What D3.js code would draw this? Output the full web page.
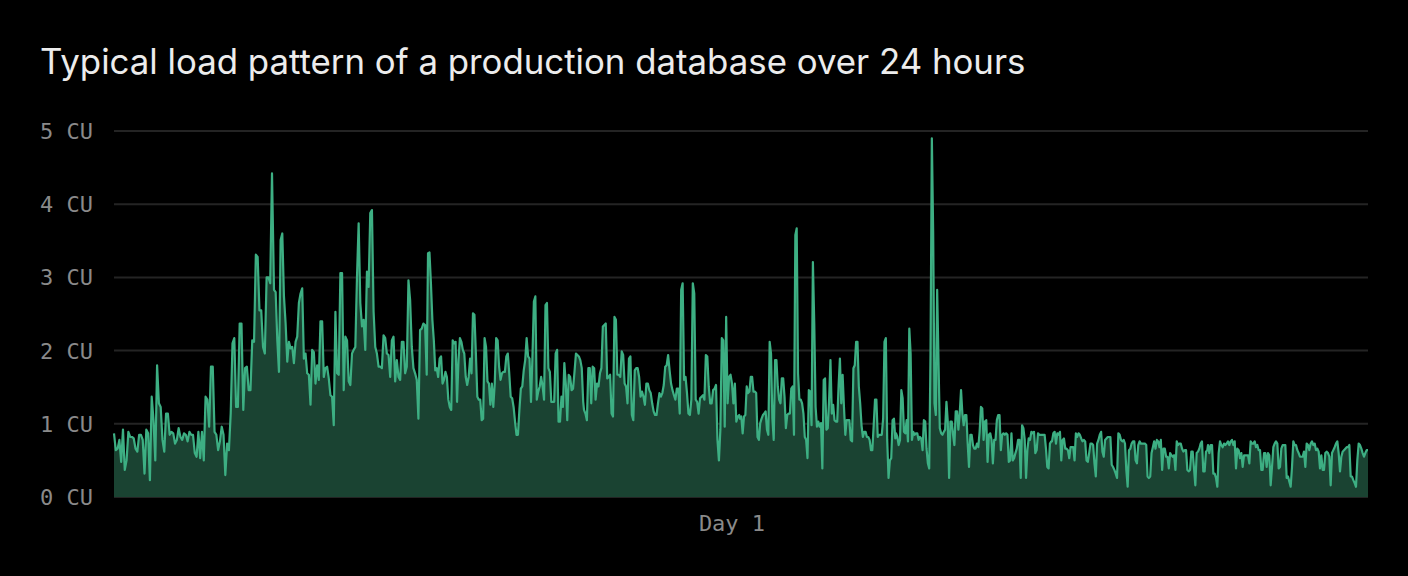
<!DOCTYPE html>
<html>
<head>
<meta charset="utf-8">
<script src="https://cdn.jsdelivr.net/npm/d3@7"></script>
<style>
  html, body { margin: 0; padding: 0; background: #000; }
  svg { display: block; }
</style>
</head>
<body>
<div id="chart"></div>
<script>
// load in CU in eight ~3 hour stretches
// each stretch: [start hour, end hour], values spread evenly inside it
var hours00 = [0, 3.024];
var load00 = [0.87,0.64,0.66,0.78,0.48,0.92,0.37,0.5,0.89,0.82,0.82,0.8,0.66,0.62,0.85,0.85,0.78,0.32,0.92,0.87,0.23,1.37,1.05,0.5,1.8,1.28,1.23,0.78,0.62,1.14,1.14,0.85,0.89,0.87,0.73,0.78,0.94,0.82,0.78,0.87,0.85,0.76,0.89,0.85,0.85,0.6,0.55,0.89,0.53,0.89,0.5,1.37,1.33,0.96,1.78,1.78,0.89,0.85,0.64,0.76,0.96,0.85,0.3,0.73,0.64,1.14,2.1,2.17,1.23,1.23,2.37,2.37,1.19,1.76,1.78,1.46,1.46,2.14,2.12,3.31,3.28,2.55,2.55,2.05,1.96,3.0,3.0,2.92,4.42];

var hours03 = [3.062, 5.985];
var load03 = [2.83,2.8,2.14,1.71,3.51,3.6,2.74,2.37,1.85,2.12,2.03,2.05,1.83,2.12,2.19,2.65,2.78,2.85,1.89,1.96,1.69,1.67,1.26,2.01,1.98,1.55,1.8,1.6,2.4,2.4,1.64,1.76,1.78,1.62,1.39,1.37,0.98,2.53,1.69,1.67,3.06,3.06,1.46,2.19,2.14,1.58,1.53,1.96,2.01,2.05,3.01,3.74,2.65,2.33,2.42,2.01,3.08,2.87,3.88,3.92,2.53,2.05,1.96,1.78,1.78,1.76,2.21,2.17,1.96,1.94,1.64,2.14,2.19,1.58,1.87,1.64,1.6,2.12,2.12,1.69,1.78,2.96,2.69,2.05,1.76,1.69,1.6,1.07,2.28,2.3,2.37,2.35,1.67];

var hours06 = [6.01, 8.98];
var load06 = [3.33,3.34,2.92,2.42,2.14,1.73,1.76,1.64,1.89,1.92,1.55,1.6,1.71,1.64,1.33,1.23,1.19,2.14,2.1,2.12,1.3,1.87,2.17,2.12,2.01,1.96,1.64,1.53,1.64,1.89,1.69,2.51,2.49,1.96,1.37,1.33,1.33,1.05,1.07,2.17,2.05,1.58,1.55,1.26,1.55,1.23,1.55,2.17,2.14,1.78,1.6,1.69,1.71,1.71,1.92,1.96,1.69,1.37,1.35,1.23,1.03,0.85,0.85,1.19,1.48,1.51,1.73,1.87,2.17,1.92,1.89,1.3,1.92,2.67,2.74,1.33,1.44,1.51,1.64,1.51,1.33,2.62,2.65,1.76,1.71,1.3,1.3,1.3,1.96,2.01,1.03,1.03,1.37,1.23,1.83,1.55,1.05,1.67,1.64,1.46,1.48,1.71,1.96,1.94,1.92,1.87,1.76,1.3];

var hours09 = [8.995, 11.966];
var load09 = [1.19,1.14,1.05,1.76,1.76,1.28,1.78,1.76,1.33,1.55,1.51,1.69,1.76,2.33,2.35,2.37,1.62,1.64,1.67,1.14,1.1,2.46,2.42,1.67,1.67,1.64,1.99,1.94,1.55,1.51,1.28,1.89,1.92,1.12,1.05,1.73,1.76,1.76,1.64,1.37,1.44,1.37,1.26,1.55,1.55,1.46,1.42,1.28,1.17,1.12,1.12,1.28,1.42,1.37,1.42,1.53,1.78,1.8,1.94,1.73,1.55,1.46,1.39,1.33,1.48,1.48,1.14,2.83,2.92,1.6,1.64,1.42,1.14,1.12,1.33,2.92,2.78,1.33,1.3,1.14,1.35,1.37,1.39,1.33,1.94,1.92,1.51,1.28,1.28,1.46,1.48,1.53,0.78,0.5,0.92,2.17,2.14,0.96,2.46,1.28,1.64,1.67,1.55,1.28,1.55,1.03,1.1,1.12];

var hours12 = [11.98, 14.953];
var load12 = [1.07,1.1,0.87,1.1,1.12,1.51,1.42,1.44,1.64,1.64,1.44,1.44,1.42,0.82,0.78,1.01,1.07,1.12,1.14,1.17,0.92,0.85,2.12,1.96,1.07,0.78,1.87,1.87,1.51,1.33,1.28,1.62,1.62,1.37,0.94,1.12,1.14,1.14,1.48,1.51,0.85,3.58,3.67,1.69,1.33,1.33,1.28,1.14,0.82,0.78,0.53,1.46,1.44,0.98,3.21,2.37,1.23,0.96,1.03,0.96,1.01,0.39,1.6,1.62,0.92,0.94,1.33,1.87,1.14,1.26,1.05,1.03,1.03,1.51,1.89,1.28,1.67,1.23,0.85,1.05,1.05,1.05,0.78,0.76,1.76,1.8,2.12,2.12,1.51,1.28,0.98,0.82,0.89,0.89,0.82,0.82,0.78,0.64,0.64,0.98,1.33,1.33,0.82,0.85,0.85,0.85,1.07,2.12,2.17,0.78,0.26,0.5,0.53,1.05,1.07,0.8];

var hours15 = [14.967, 17.938];
var load15 = [0.87,0.82,0.71,0.78,1.46,1.35,0.89,0.87,1.05,0.76,2.3,1.96,0.78,0.89,0.85,0.87,0.87,0.78,0.82,0.8,0.64,1.05,1.03,0.66,0.46,0.39,1.96,4.9,3.6,1.28,1.12,2.83,1.87,0.94,0.87,0.85,0.89,0.92,1.3,1.03,0.26,1.03,1.03,0.85,0.71,1.17,1.17,0.92,1.14,1.46,1.14,0.98,1.12,1.12,0.73,0.41,0.85,0.85,0.71,0.66,0.66,0.73,0.68,0.89,1.23,1.21,0.78,1.03,1.05,0.48,0.85,0.87,0.78,0.46,0.78,0.78,1.05,1.12,1.12,0.64,0.85,0.87,0.85,0.87,0.85,0.48,0.5,0.87,0.5,0.53,0.6,0.66,0.78,0.78,0.26,0.98,0.94,0.78,0.26,0.64,0.8,0.78,0.89,0.87,0.89,0.6,0.64,0.87,0.85,0.85,0.85,0.85,0.85,0.66,0.41,0.39,0.73,0.76];

var hours18 = [17.952, 20.924];
var load18 = [0.76,0.87,0.89,0.73,0.87,0.85,0.89,0.5,0.78,0.8,0.66,0.66,0.64,0.53,0.68,0.68,0.68,0.5,0.87,0.82,0.87,0.85,0.8,0.76,0.78,0.76,0.5,0.48,0.6,0.73,0.73,0.71,0.46,0.28,0.73,0.78,0.85,0.89,0.62,0.55,0.78,0.8,0.82,0.82,0.82,0.44,0.41,0.37,0.32,0.26,0.87,0.85,0.78,0.76,0.78,0.73,0.37,0.14,0.64,0.66,0.73,0.76,0.76,0.5,0.46,0.71,0.76,0.73,0.73,0.73,0.73,0.71,0.28,0.26,0.28,0.6,0.68,0.76,0.66,0.78,0.76,0.68,0.78,0.37,0.66,0.66,0.55,0.55,0.39,0.6,0.57,0.55,0.57,0.37,0.76,0.71,0.73,0.73,0.66,0.62,0.64,0.64,0.37,0.35,0.37,0.62,0.62,0.39,0.16,0.6,0.62,0.66,0.73,0.76,0.35,0.35,0.62,0.64];

var hours21 = [20.938, 24];
var load21 = [0.71,0.6,0.71,0.71,0.32,0.32,0.26,0.14,0.6,0.76,0.71,0.68,0.73,0.71,0.73,0.76,0.71,0.76,0.78,0.71,0.76,0.39,0.66,0.64,0.53,0.6,0.41,0.57,0.57,0.57,0.57,0.46,0.76,0.73,0.73,0.76,0.68,0.71,0.64,0.64,0.37,0.37,0.6,0.6,0.41,0.6,0.57,0.16,0.41,0.68,0.73,0.76,0.73,0.39,0.41,0.66,0.71,0.71,0.71,0.26,0.28,0.21,0.14,0.41,0.76,0.71,0.71,0.64,0.6,0.55,0.55,0.55,0.62,0.41,0.73,0.71,0.64,0.73,0.76,0.71,0.73,0.64,0.66,0.62,0.39,0.57,0.37,0.37,0.6,0.62,0.6,0.55,0.16,0.6,0.64,0.68,0.73,0.76,0.6,0.35,0.55,0.62,0.64,0.66,0.68,0.68,0.71,0.28,0.28,0.23,0.19,0.14,0.5,0.73,0.71,0.66,0.6,0.55,0.6,0.64,0.64];

var yTicks = [0, 1, 2, 3, 4, 5];
var xLabel = "Day 1";
var title = "Typical load pattern of a production database over 24 hours";

var stretches = [
  [hours00, load00], [hours03, load03], [hours06, load06], [hours09, load09],
  [hours12, load12], [hours15, load15], [hours18, load18], [hours21, load21]
];

var data = [];
stretches.forEach(function(s) {
  var t = d3.scaleLinear().domain([0, s[1].length - 1]).range(s[0]);
  s[1].forEach(function(v, i) { data.push({ t: t(i), v: v }); });
});

var width = 1408, height = 576;
var margin = { left: 114, right: 40, top: 131, bottom: 79 };

var svg = d3.select("#chart").append("svg")
  .attr("width", width)
  .attr("height", height);

var x = d3.scaleLinear().domain([0, 24]).range([margin.left, width - margin.right]);
var y = d3.scaleLinear().domain([0, 5]).range([height - margin.bottom, margin.top]);

svg.append("text")
  .attr("x", 40)
  .attr("y", 74)
  .attr("fill", "#ececec")
  .style("font-family", "Inter, 'Noto Sans', sans-serif")
  .style("font-size", "34.8px")
  .text(title);

// grid
svg.append("g")
  .selectAll("line")
  .data(yTicks)
  .enter()
  .append("line")
  .attr("x1", x(0))
  .attr("x2", x(24))
  .attr("y1", function(d) { return y(d); })
  .attr("y2", function(d) { return y(d); })
  .attr("stroke", "#242424")
  .attr("stroke-width", 2);

svg.append("g")
  .selectAll("text")
  .data(yTicks)
  .enter()
  .append("text")
  .attr("x", 40)
  .attr("y", function(d) { return y(d); })
  .attr("dy", "0.36em")
  .attr("fill", "#8a8a8a")
  .style("font-family", "'DejaVu Sans Mono', monospace")
  .style("font-size", "22px")
  .text(function(d) { return d + " CU"; });

var area = d3.area()
  .x(function(d) { return x(d.t); })
  .y0(y(0))
  .y1(function(d) { return y(d.v); });

var line = d3.line()
  .x(function(d) { return x(d.t); })
  .y(function(d) { return y(d.v); });

svg.append("path")
  .datum(data)
  .attr("d", area)
  .attr("fill", "#1a4332");

svg.append("path")
  .datum(data)
  .attr("d", line)
  .attr("fill", "none")
  .attr("stroke", "#3daf83")
  .attr("stroke-width", 2.2)
  .attr("stroke-linejoin", "round");

svg.append("text")
  .attr("x", (x(0) + x(24)) / 2 - 9)
  .attr("y", 531)
  .attr("text-anchor", "middle")
  .attr("fill", "#8a8a8a")
  .style("font-family", "'DejaVu Sans Mono', monospace")
  .style("font-size", "22px")
  .text(xLabel);
</script>
</body>
</html>
